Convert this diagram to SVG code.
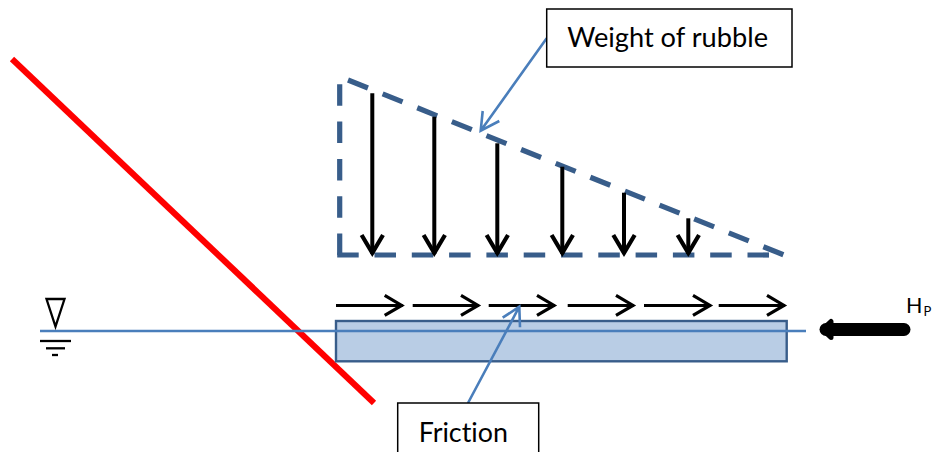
<svg xmlns="http://www.w3.org/2000/svg" width="933" height="452" viewBox="0 0 933 452">
<style>
.dash{fill:none;stroke:#385d8a;stroke-width:5.2;stroke-dasharray:21.5 15.8}
.down{fill:none;stroke:#000;stroke-width:4;marker-end:url(#mDown)}
.right{fill:none;stroke:#000;stroke-width:3;marker-end:url(#mRight)}
.lead{fill:none;stroke:#4a7ebb;stroke-width:2.6}
.box{fill:#fff;stroke:#000;stroke-width:1.5}
.lbl{font-family:Lato,"Liberation Sans",sans-serif;fill:#000;font-variant-ligatures:none}
.sym{fill:none;stroke:#000;stroke-width:2.3}
</style>
<defs>
<marker id="mDown" markerUnits="userSpaceOnUse" viewBox="-24 -14 28 28" refX="0" refY="0" markerWidth="28" markerHeight="28" orient="auto"><path d="M-19 -10.7L-1 0L-19 10.7" fill="none" stroke="#000" stroke-width="4.2"/></marker>
<marker id="mRight" markerUnits="userSpaceOnUse" viewBox="-24 -14 28 28" refX="0" refY="0" markerWidth="28" markerHeight="28" orient="auto"><path d="M-18 -10L-1 0L-18 10" fill="none" stroke="#000" stroke-width="3.2"/></marker>
</defs>
<rect width="933" height="452" fill="#fff"/>
<g id="wall"><line x1="12" y1="59" x2="374" y2="403" stroke="#f00" stroke-width="6.2"/></g>
<g id="load-triangle">
<line class="dash" x1="348" y1="80" x2="784" y2="255"/>
<line class="dash" x1="769" y1="255" x2="337" y2="255"/>
<line class="dash" x1="339.7" y1="255" x2="339.7" y2="84"/>
</g>
<g id="slab"><rect x="336" y="321" width="450.7" height="40.3" fill="#b9cde5" stroke="#385d8a" stroke-width="2.4"/></g>
<g id="water-level">
<line x1="40" y1="331" x2="806" y2="331" stroke="#4a7ebb" stroke-width="2.4"/>
<path class="sym" d="M46.5 299H64.5L55.5 326.5Z" stroke-width="3.4" stroke-linejoin="miter"/>
<line class="sym" x1="40" y1="341" x2="71" y2="341"/>
<line class="sym" x1="46" y1="348.3" x2="65" y2="348.3"/>
<line class="sym" x1="52" y1="355" x2="58" y2="355"/>
</g>
<g id="connectors">
<g id="weight-arrows">
<line class="down" x1="372.3" y1="93.3" x2="372.3" y2="254"/>
<line class="down" x1="434.3" y1="116.7" x2="434.3" y2="254"/>
<line class="down" x1="497.3" y1="143.3" x2="497.3" y2="254"/>
<line class="down" x1="562.3" y1="166.7" x2="562.3" y2="254"/>
<line class="down" x1="624" y1="192.7" x2="624" y2="254"/>
<line class="down" x1="688.3" y1="218.3" x2="688.3" y2="254"/>
</g>
<g id="friction-arrows">
<line class="right" x1="336" y1="305.4" x2="402.7" y2="305.4"/>
<line class="right" x1="412.7" y1="305.4" x2="479" y2="305.4"/>
<line class="right" x1="488.7" y1="305.4" x2="555" y2="305.4"/>
<line class="right" x1="567.7" y1="305.4" x2="634" y2="305.4"/>
<line class="right" x1="644" y1="305.4" x2="711" y2="305.4"/>
<line class="right" x1="718.7" y1="305.4" x2="785" y2="305.4"/>
</g>
<path class="lead" d="M546.7 38.3L480.7 130.7M482.7 111L480.7 130.7L499.3 121"/>
<path class="lead" d="M468 403L519.3 306.7M502.7 317.7L519.3 306.7L520 327.3"/>
<g id="hp-arrow"><path d="M904 329.5H826" fill="none" stroke="#000" stroke-width="13" stroke-linecap="round"/><path d="M822.5 329.5L831 321.5V337.5Z" fill="#000" stroke="#000" stroke-width="5" stroke-linejoin="round"/></g>
</g>
<g id="weight-label"><rect class="box" x="546.7" y="9" width="245.3" height="58"/><text class="lbl" x="567.3" y="46.7" font-size="27.2">Weight of rubble</text></g>
<g id="friction-label"><rect class="box" x="397.7" y="403" width="141" height="60"/><text class="lbl" x="418.7" y="441.7" font-size="26.8">Friction</text></g>
<g id="hp-label"><text class="lbl" x="906" y="312.7" font-size="21.5">H<tspan font-size="13" dy="3" dx="1">P</tspan></text></g>
</svg>
